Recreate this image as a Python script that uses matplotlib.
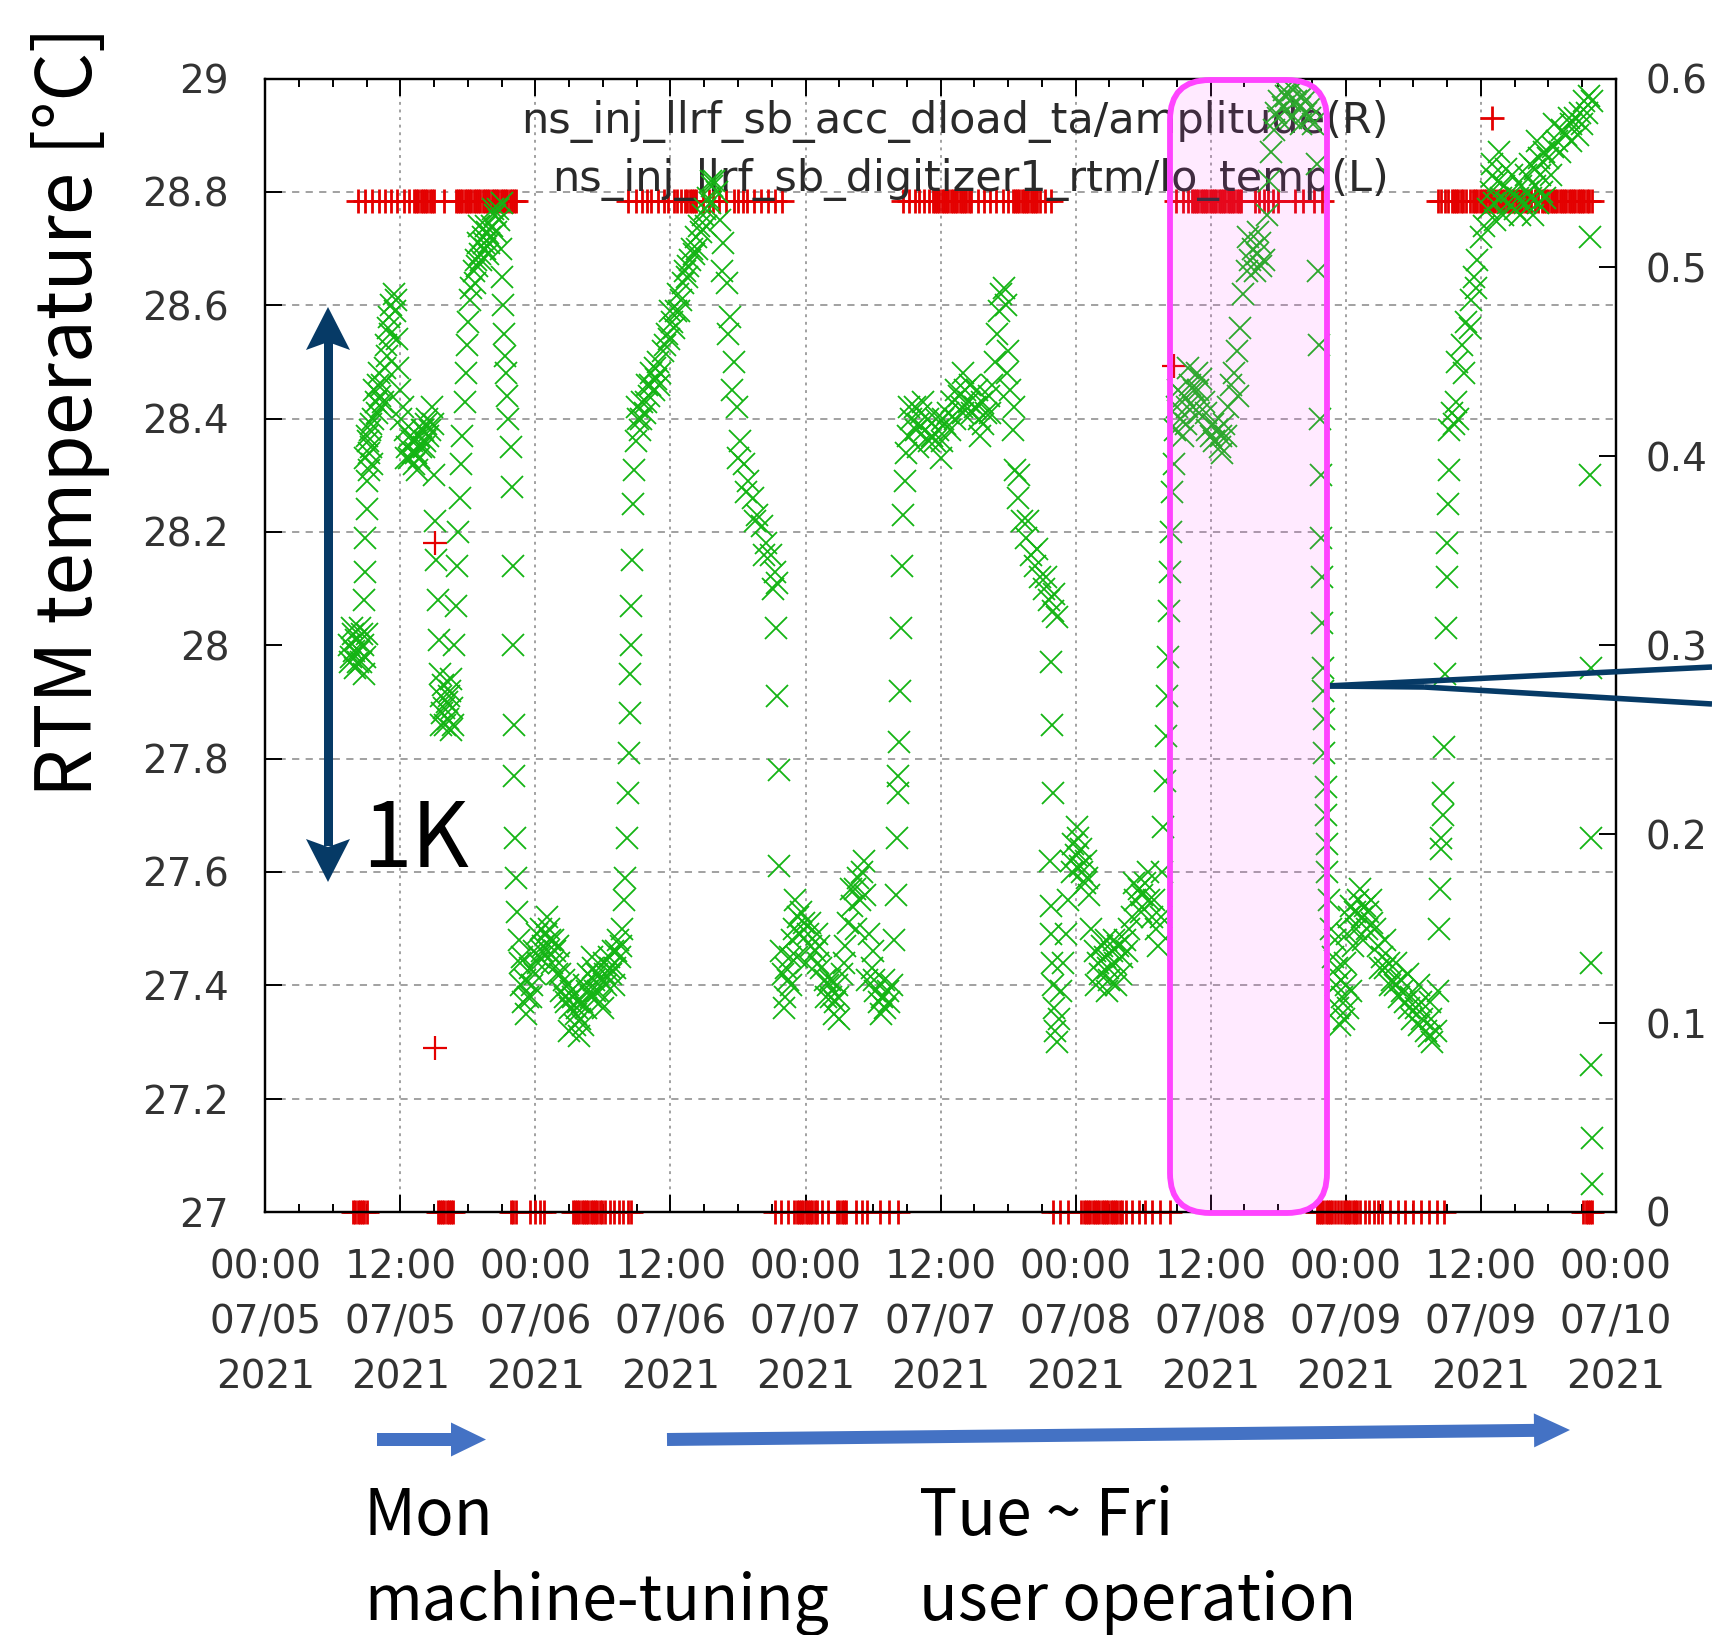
import matplotlib
matplotlib.use("Agg")
import matplotlib.pyplot as plt
import numpy as np
from matplotlib.patches import FancyBboxPatch, Polygon
from matplotlib.lines import Line2D
from matplotlib.transforms import IdentityTransform

# hours since 07/05 00:00 and RTM temperature [degC], one list per day
mon = [(7.4, 28.00), (7.6, 27.98), (7.8, 28.02), (8.0, 27.96), (8.1, 28.01), (8.3, 27.99), (8.4, 28.03),
       (8.5, 27.97), (8.7, 28.00), (8.8, 27.95), (9.0, 28.02),
       (7.5, 27.97), (7.7, 28.03), (7.9, 27.99), (8.2, 27.97), (8.6, 28.02), (8.9, 27.98),
       (8.8, 28.08), (8.9, 28.13), (8.9, 28.19), (9.0, 28.24), (9.0, 28.29),
       (8.9, 28.33), (9.1, 28.36), (9.2, 28.34), (9.3, 28.38), (9.4, 28.35), (9.5, 28.32),
       (9.0, 28.37), (9.2, 28.31), (9.4, 28.39), (9.7, 28.45), (9.9, 28.41), (10.1, 28.48), (10.3, 28.42),
       (9.6, 28.40), (9.8, 28.43), (10.0, 28.46), (10.2, 28.44), (10.4, 28.46), (10.5, 28.43), (10.6, 28.49),
       (10.7, 28.53), (10.8, 28.51), (10.9, 28.56), (11.0, 28.58), (11.1, 28.55), (11.2, 28.60), (11.4, 28.62),
       (11.5, 28.59), (11.6, 28.61),
       (11.7, 28.54), (11.8, 28.49), (12.0, 28.45), (12.2, 28.42), (12.4, 28.38), (12.6, 28.35), (12.8, 28.33),
       (13.0, 28.36), (13.2, 28.32), (13.4, 28.34), (13.6, 28.37), (13.8, 28.35), (14.0, 28.38), (14.2, 28.36),
       (14.4, 28.40), (14.6, 28.38), (14.8, 28.42), (14.9, 28.39),
       (12.1, 28.40), (12.5, 28.33), (12.9, 28.37), (13.1, 28.34), (13.3, 28.36), (13.5, 28.31), (13.7, 28.33),
       (13.9, 28.38), (14.1, 28.35), (14.3, 28.39), (14.5, 28.37),
       (15.0, 28.30), (15.1, 28.22), (15.2, 28.15), (15.3, 28.08), (15.4, 28.01),
       (15.5, 27.95), (15.6, 27.91), (15.7, 27.88), (15.8, 27.93), (16.0, 27.86), (16.1, 27.90), (16.2, 27.87),
       (16.4, 27.92), (16.5, 27.85), (16.6, 27.89),
       (15.6, 27.86), (15.9, 27.89), (16.3, 27.91), (16.5, 27.94), (16.7, 27.86),
       (16.8, 28.00), (16.9, 28.07), (17.0, 28.14), (17.1, 28.20), (17.3, 28.26), (17.4, 28.32), (17.5, 28.37),
       (17.7, 28.43), (17.8, 28.48), (17.9, 28.53), (18.0, 28.57), (18.2, 28.61),
       (18.3, 28.63), (18.5, 28.66), (18.7, 28.68), (18.9, 28.71), (19.1, 28.69), (19.3, 28.72), (19.5, 28.70),
       (19.7, 28.73), (19.9, 28.71), (20.1, 28.74), (20.4, 28.76), (20.7, 28.77), (21.0, 28.78),
       (18.6, 28.64), (18.8, 28.67), (19.0, 28.74), (19.2, 28.68), (19.4, 28.71), (19.6, 28.74), (19.8, 28.69),
       (20.0, 28.72), (20.2, 28.77), (20.5, 28.73), (20.8, 28.75),
       (20.9, 28.70), (21.0, 28.65), (21.1, 28.60), (21.2, 28.55), (21.3, 28.51), (21.4, 28.48), (21.5, 28.44),
       (21.6, 28.40), (21.8, 28.35),
       (21.9, 28.28), (22.0, 28.14), (22.0, 28.00), (22.1, 27.86), (22.1, 27.77), (22.2, 27.66), (22.3, 27.59),
       (22.4, 27.53), (22.5, 27.48)]

tue = [(22.6, 27.44), (22.7, 27.40), (22.9, 27.37), (23.1, 27.41), (23.3, 27.38), (23.5, 27.43), (23.7, 27.40),
       (23.9, 27.46), (24.1, 27.49), (24.3, 27.45), (24.5, 27.50), (24.7, 27.47), (24.9, 27.49), (25.1, 27.46),
       (25.3, 27.48), (25.5, 27.44), (25.7, 27.46), (25.9, 27.42), (26.1, 27.44), (26.3, 27.39), (26.5, 27.41),
       (26.7, 27.37), (26.9, 27.40), (27.1, 27.36), (27.3, 27.38), (27.5, 27.33), (27.7, 27.36), (27.9, 27.31),
       (28.1, 27.37), (28.3, 27.40), (28.5, 27.36), (28.7, 27.42), (28.9, 27.38), (29.1, 27.43), (29.3, 27.39),
       (29.5, 27.42), (29.7, 27.37), (29.9, 27.41), (30.1, 27.44), (30.3, 27.40), (30.5, 27.45), (30.7, 27.42),
       (30.9, 27.46), (31.1, 27.43), (31.3, 27.48), (31.5, 27.45), (31.7, 27.50),
       (24.0, 27.42), (25.0, 27.52), (26.0, 27.47), (27.0, 27.32), (28.0, 27.34), (29.0, 27.45), (30.0, 27.36),
       (31.0, 27.40),
       (22.8, 27.45), (23.2, 27.35), (23.6, 27.38), (24.2, 27.44), (24.6, 27.46), (25.2, 27.50), (25.6, 27.48),
       (26.2, 27.42), (26.6, 27.38), (27.2, 27.39), (27.6, 27.35), (27.8, 27.37), (28.2, 27.33), (28.6, 27.39),
       (29.2, 27.41), (29.6, 27.39), (30.2, 27.42), (30.6, 27.43), (31.2, 27.46), (31.6, 27.47),
       (31.9, 27.55), (32.0, 27.59), (32.1, 27.66), (32.2, 27.74), (32.3, 27.81), (32.4, 27.88), (32.4, 27.95),
       (32.5, 28.00), (32.5, 28.07), (32.6, 28.15), (32.7, 28.25), (32.8, 28.31),
       (32.9, 28.36), (33.1, 28.40), (33.3, 28.38), (33.5, 28.43), (33.7, 28.41), (33.9, 28.46), (34.1, 28.44),
       (34.3, 28.48), (34.5, 28.45), (34.7, 28.47), (34.9, 28.50), (35.1, 28.48), (35.3, 28.52),
       (33.0, 28.42), (33.4, 28.40), (33.8, 28.43), (34.2, 28.46), (34.6, 28.49), (35.0, 28.46),
       (35.5, 28.53), (35.7, 28.55), (35.9, 28.54), (36.1, 28.57), (36.3, 28.56), (36.5, 28.59), (36.7, 28.62),
       (36.9, 28.61), (37.1, 28.64), (37.3, 28.66), (37.5, 28.65), (37.7, 28.68), (37.9, 28.70), (38.1, 28.69),
       (38.3, 28.72), (38.5, 28.74), (38.7, 28.73), (38.9, 28.76), (39.1, 28.77), (39.3, 28.79), (39.5, 28.78),
       (39.7, 28.81), (39.9, 28.82), (40.1, 28.80),
       (36.0, 28.59), (36.8, 28.59), (37.6, 28.67), (38.4, 28.70), (39.2, 28.74), (39.6, 28.82),
       (40.4, 28.75), (40.7, 28.71), (41.0, 28.64), (41.3, 28.58), (41.6, 28.50), (41.9, 28.42), (42.2, 28.36),
       (42.5, 28.32), (42.9, 28.29), (43.3, 28.26), (43.7, 28.23), (44.1, 28.21), (44.5, 28.18), (44.9, 28.16),
       (45.3, 28.13), (45.5, 28.11),
       (40.6, 28.66), (41.1, 28.55), (41.5, 28.45), (42.0, 28.33), (42.7, 28.27), (43.5, 28.22), (44.3, 28.16),
       (45.1, 28.10),
       (45.4, 28.03), (45.5, 27.91), (45.6, 27.78), (45.6, 27.61)]

wed = [(45.8, 27.46), (46.0, 27.42), (46.1, 27.36), (46.2, 27.38), (46.4, 27.41), (46.6, 27.45), (46.8, 27.48),
       (47.0, 27.50), (47.2, 27.45), (47.3, 27.52), (47.6, 27.53), (47.9, 27.51), (48.2, 27.49), (48.5, 27.47),
       (48.8, 27.46), (49.1, 27.44), (49.4, 27.43), (49.7, 27.41), (50.0, 27.40), (50.3, 27.38), (50.5, 27.35),
       (50.6, 27.37), (50.9, 27.38), (51.2, 27.42), (51.5, 27.47), (51.8, 27.51), (52.1, 27.54), (52.4, 27.57),
       (52.5, 27.50), (52.7, 27.59), (53.0, 27.60), (53.3, 27.56), (53.6, 27.49), (53.9, 27.43), (54.0, 27.46),
       (54.2, 27.39), (54.5, 27.37), (54.8, 27.38), (55.1, 27.36), (55.4, 27.37), (55.7, 27.40),
       (48.0, 27.44), (49.0, 27.49), (51.0, 27.34), (53.5, 27.41), (55.0, 27.41),
       (46.3, 27.43), (46.7, 27.40), (47.1, 27.55), (47.5, 27.49), (48.4, 27.51), (49.2, 27.47), (49.8, 27.38),
       (50.2, 27.41), (50.8, 27.40), (51.4, 27.44), (52.0, 27.57), (52.8, 27.55), (53.2, 27.62), (54.1, 27.41),
       (54.7, 27.35), (55.3, 27.39),
       (55.9, 27.48), (56.0, 27.56), (56.1, 27.66), (56.2, 27.74), (56.2, 27.77), (56.3, 27.83), (56.4, 27.92),
       (56.5, 28.03), (56.6, 28.14), (56.7, 28.23), (56.8, 28.29), (56.9, 28.34),
       (57.1, 28.37), (57.4, 28.40), (57.7, 28.42), (58.0, 28.39), (58.3, 28.41), (58.6, 28.38), (58.9, 28.40),
       (59.2, 28.37), (59.5, 28.36), (59.8, 28.38), (60.1, 28.36), (60.4, 28.39), (60.7, 28.41), (61.0, 28.43),
       (61.3, 28.40), (61.6, 28.44), (61.9, 28.42), (62.2, 28.45), (62.5, 28.43), (62.8, 28.41), (63.1, 28.42),
       (63.4, 28.40), (63.7, 28.43), (64.0, 28.41), (64.3, 28.44), (64.6, 28.46),
       (58.0, 28.35), (60.0, 28.33), (62.0, 28.48), (63.5, 28.37),
       (57.2, 28.42), (57.8, 28.38), (58.4, 28.43), (59.0, 28.36), (59.6, 28.40), (60.2, 28.40), (60.8, 28.38),
       (61.4, 28.45), (62.0, 28.41), (62.6, 28.46), (63.2, 28.45), (63.8, 28.39), (64.4, 28.41),
       (64.8, 28.50), (65.0, 28.55), (65.2, 28.59), (65.4, 28.62), (65.6, 28.63), (65.8, 28.60),
       (66.0, 28.52), (66.2, 28.45), (66.4, 28.38), (66.6, 28.31), (66.9, 28.26), (67.2, 28.22), (67.6, 28.19),
       (68.0, 28.16), (68.4, 28.14), (68.8, 28.12), (69.2, 28.10), (69.6, 28.08), (70.0, 28.06), (70.3, 28.05),
       (65.9, 28.48), (66.5, 28.42), (67.0, 28.30), (67.8, 28.22), (68.6, 28.17), (69.4, 28.12), (70.1, 28.09),
       (69.8, 27.97), (69.9, 27.86), (70.0, 27.74)]

thu = [(69.7, 27.62), (69.8, 27.54), (69.8, 27.49), (69.9, 27.44), (70.0, 27.40), (70.1, 27.36), (70.2, 27.32),
       (70.3, 27.30), (70.5, 27.34), (70.7, 27.39), (70.9, 27.44), (71.1, 27.49), (71.3, 27.55),
       (71.6, 27.62), (71.8, 27.65), (72.0, 27.63), (72.2, 27.66), (72.4, 27.61), (72.6, 27.60), (72.8, 27.58),
       (73.0, 27.59), (73.2, 27.56),
       (71.7, 27.60), (72.1, 27.68), (72.5, 27.64), (72.9, 27.62),
       (73.4, 27.50), (73.7, 27.46), (73.8, 27.40), (74.0, 27.44), (74.3, 27.47), (74.6, 27.45), (74.8, 27.39),
       (74.9, 27.43), (75.2, 27.46), (75.5, 27.44), (75.6, 27.40), (75.8, 27.47), (76.1, 27.45), (76.4, 27.48),
       (76.7, 27.50),
       (77.0, 27.52), (77.3, 27.55), (77.6, 27.57), (77.9, 27.56), (78.2, 27.58), (78.5, 27.55), (78.8, 27.52),
       (79.1, 27.50), (79.3, 27.47),
       (74.2, 27.42), (74.7, 27.48), (75.0, 27.41), (75.4, 27.48), (76.0, 27.42), (76.6, 27.46), (77.2, 27.58),
       (77.8, 27.53), (78.4, 27.60), (79.0, 27.55),
       (79.6, 27.52), (79.7, 27.60), (79.8, 27.68), (79.9, 27.76), (80.0, 27.84), (80.1, 27.91), (80.2, 27.98),
       (80.3, 28.06), (80.4, 28.13), (80.5, 28.20), (80.6, 28.27), (80.7, 28.32),
       (80.8, 28.38), (81.0, 28.42), (81.3, 28.40), (81.6, 28.44), (81.9, 28.42), (82.2, 28.46), (82.5, 28.45),
       (82.8, 28.48), (83.1, 28.47), (83.4, 28.43), (83.7, 28.38), (84.0, 28.37), (84.3, 28.36), (84.6, 28.38),
       (84.9, 28.37), (85.2, 28.39), (85.5, 28.42), (85.8, 28.46), (86.1, 28.48), (86.4, 28.44),
       (81.5, 28.37), (82.0, 28.49), (83.0, 28.41), (85.0, 28.34),
       (81.1, 28.45), (81.8, 28.39), (82.4, 28.42), (82.9, 28.45), (83.6, 28.41), (84.2, 28.39), (84.8, 28.35),
       (85.4, 28.37),
       (86.3, 28.52), (86.6, 28.56), (86.9, 28.62), (87.2, 28.66), (87.5, 28.68), (87.8, 28.70), (88.1, 28.69),
       (88.4, 28.71), (88.7, 28.68),
       (87.3, 28.72), (87.9, 28.66), (88.2, 28.73), (88.5, 28.67),
       (89.0, 28.76), (89.2, 28.82), (89.4, 28.87), (89.6, 28.91),
       (89.8, 28.94), (90.1, 28.96), (90.4, 28.95), (90.7, 28.97), (91.0, 28.96), (91.3, 28.98), (91.6, 28.96),
       (91.9, 28.95), (92.2, 28.97), (92.5, 28.94), (92.8, 28.93), (93.1, 28.92),
       (90.0, 28.93), (90.5, 28.98), (91.1, 28.93), (91.5, 28.99), (92.0, 28.92), (92.4, 28.96), (92.9, 28.95),
       (93.4, 28.85), (93.5, 28.66), (93.6, 28.53), (93.7, 28.40), (93.8, 28.30), (93.8, 28.19), (93.9, 28.12),
       (93.9, 28.04), (94.0, 27.96), (94.0, 27.92), (94.1, 27.87), (94.1, 27.81), (94.2, 27.75), (94.2, 27.70),
       (94.3, 27.65), (94.3, 27.60)]

fri = [(94.5, 27.55), (94.7, 27.50), (94.9, 27.45), (95.1, 27.40), (95.3, 27.36), (95.5, 27.33), (95.7, 27.38),
       (95.9, 27.44), (96.1, 27.49), (96.3, 27.52), (96.5, 27.54), (96.8, 27.53), (97.1, 27.55), (97.4, 27.52),
       (97.7, 27.54), (98.0, 27.53), (98.3, 27.51),
       (95.0, 27.48), (95.8, 27.34), (96.2, 27.36), (96.5, 27.39), (96.6, 27.47), (97.5, 27.48),
       (95.2, 27.43), (95.6, 27.41), (96.0, 27.40), (96.9, 27.50), (97.3, 27.57), (97.9, 27.50), (98.2, 27.55),
       (98.6, 27.50), (98.9, 27.47), (99.2, 27.45), (99.5, 27.43), (99.8, 27.44), (100.1, 27.41), (100.4, 27.40),
       (100.7, 27.38), (101.0, 27.39), (101.3, 27.37), (101.6, 27.36), (101.9, 27.34), (102.2, 27.36),
       (102.5, 27.33), (102.8, 27.34), (103.1, 27.32), (103.4, 27.31), (103.7, 27.30), (104.0, 27.32),
       (99.5, 27.48), (100.5, 27.44), (101.5, 27.42), (102.5, 27.40), (103.5, 27.37),
       (99.0, 27.43), (99.9, 27.40), (100.9, 27.41), (101.8, 27.38), (102.7, 27.37), (103.6, 27.34),
       (104.2, 27.39), (104.3, 27.50), (104.4, 27.57), (104.5, 27.64), (104.5, 27.66), (104.6, 27.70),
       (104.6, 27.74), (104.7, 27.82), (104.8, 27.95), (104.9, 28.03), (105.0, 28.12), (105.0, 28.18),
       (105.1, 28.25), (105.2, 28.31),
       (105.2, 28.38), (105.4, 28.41), (105.6, 28.39), (105.8, 28.43), (106.0, 28.40),
       (105.9, 28.50), (106.3, 28.53), (106.7, 28.57), (107.1, 28.61), (107.4, 28.65), (107.7, 28.68),
       (108.0, 28.72), (108.3, 28.74),
       (106.5, 28.48), (107.0, 28.56), (107.6, 28.63),
       (108.6, 28.77), (108.9, 28.80), (109.2, 28.78), (109.5, 28.82), (109.8, 28.79), (110.1, 28.81),
       (110.4, 28.78), (110.7, 28.80), (111.0, 28.77), (111.3, 28.79), (111.6, 28.81), (111.9, 28.78),
       (112.2, 28.80), (112.5, 28.79), (112.8, 28.81), (113.1, 28.78), (113.4, 28.80), (113.7, 28.79),
       (109.0, 28.85), (109.6, 28.87), (110.2, 28.84),
       (109.3, 28.75), (110.0, 28.76), (110.8, 28.83), (111.5, 28.76), (112.6, 28.76), (113.3, 28.83),
       (112.0, 28.83), (112.4, 28.85), (112.8, 28.84), (113.2, 28.86), (113.6, 28.87), (114.0, 28.86),
       (114.4, 28.88), (114.8, 28.89), (115.2, 28.91), (115.6, 28.90), (116.0, 28.92), (116.4, 28.93),
       (116.8, 28.94), (117.2, 28.96), (117.6, 28.97), (117.9, 28.96),
       (113.0, 28.89), (114.5, 28.92), (116.0, 28.89), (117.0, 28.92),
       (114.2, 28.83), (115.0, 28.87), (115.8, 28.93), (116.6, 28.90), (117.4, 28.94),
       (117.7, 28.72), (117.7, 28.30), (117.8, 27.96), (117.8, 27.66), (117.8, 27.44), (117.8, 27.26),
       (117.9, 27.13), (117.9, 27.05)]

# amplitude (right axis): hours where it sits at the "on" level, hours where it is 0, and a few in between
amp_on_level = 0.535
amp_on_hours = [8.2, 8.9, 9.5, 10.1, 10.6, 11.2, 11.7, 12.3, 12.8, 13.2, 13.4, 13.6, 13.8, 14.0, 14.2, 14.4,
                14.6, 14.8, 15.0, 15.9, 16.9, 17.1, 17.3, 17.5, 17.7, 17.9, 18.1, 18.3, 18.5, 18.7, 18.9, 19.1,
                19.3, 19.5, 19.7, 19.9, 20.1, 20.3, 20.5, 20.7, 20.9, 21.1, 21.3, 21.5, 21.7, 21.9, 22.1, 22.3,
                32.2, 32.9, 33.5, 33.9, 34.3, 34.9, 35.4, 35.8, 36.3, 36.6, 36.9, 37.3, 37.5, 37.7, 37.9, 38.1,
                38.3, 38.9, 39.4, 39.8, 40.3, 40.9, 41.6, 42.0, 42.4, 42.8, 43.4, 44.0, 44.7, 45.3, 45.9,
                56.7, 57.2, 57.7, 58.1, 58.5, 59.0, 59.3, 59.5, 59.7, 59.9, 60.1, 60.3, 60.5, 60.7, 60.9, 61.1,
                61.3, 61.5, 61.7, 61.9, 62.1, 62.3, 62.5, 62.7, 63.3, 63.9, 64.4, 64.9, 65.5, 66.0, 66.4, 66.6,
                66.8, 67.0, 67.2, 67.4, 67.6, 67.8, 68.0, 68.2, 68.4, 68.6, 68.8, 69.3, 69.8,
                80.9, 81.5, 82.0, 82.3, 82.5, 82.7, 82.9, 83.1, 83.3, 83.5, 83.7, 83.9, 84.1, 84.3, 84.5, 84.7,
                84.9, 85.1, 85.3, 85.5, 85.7, 85.9, 86.1, 86.3, 86.5, 86.7, 87.9, 88.3, 88.7, 89.1, 89.5, 90.0,
                91.5, 92.2, 93.2, 93.9,
                104.2, 104.5, 104.8, 105.1, 105.4, 105.6, 105.8, 106.0, 106.2, 106.4, 106.7, 107.0, 107.3, 107.5,
                107.7, 107.9, 108.1, 108.3, 108.5, 108.7, 108.9, 109.1, 109.3, 109.5, 109.7, 109.9, 110.1, 110.3,
                110.5, 110.7, 110.9, 111.1, 111.3, 111.5, 111.7, 111.9, 112.1, 112.3, 112.5, 112.8, 113.1, 113.4,
                113.6, 113.8, 114.0, 114.2, 114.4, 114.6, 114.8, 115.0, 115.2, 115.4, 115.6, 115.8, 116.0, 116.2,
                116.4, 116.6, 116.8, 117.0, 117.2, 117.4, 117.6, 117.9]
amp_off_hours = [7.8, 8.0, 8.2, 8.4, 8.6, 8.8, 9.0,
                 15.3, 15.5, 15.7, 15.9, 16.1, 16.3, 16.5, 16.7,
                 21.8, 22.0, 22.3, 23.5, 24.0, 24.4, 24.8,
                 27.3, 27.5, 27.7, 27.9, 28.1, 28.3, 28.5, 28.7, 28.9, 29.1, 29.3, 29.5, 29.7, 29.9, 30.2, 30.6,
                 31.0, 31.4, 31.8, 32.2, 32.5,
                 45.3, 45.8, 46.4, 47.0, 47.2, 47.4, 47.6, 47.8, 48.0, 48.2, 48.4, 48.6, 48.8, 49.0, 49.5, 50.0,
                 50.8, 51.0, 51.2, 51.4, 51.6, 52.5, 53.0, 53.5, 54.6, 55.4, 56.2,
                 70.0, 70.6, 71.3, 72.5, 72.7, 72.9, 73.1, 73.3, 73.5, 73.7, 73.9, 74.1, 74.3, 74.5, 74.7, 74.9,
                 75.1, 75.3, 75.5, 75.7, 75.9, 76.1, 76.5, 77.0, 77.6, 78.2, 78.8, 79.5, 80.4,
                 93.4, 93.6, 93.8, 94.0, 94.2, 94.4, 94.6, 94.8, 95.0, 95.3, 95.6, 95.8, 96.0, 96.2, 96.4, 96.6,
                 96.8, 97.0, 97.3, 97.7, 98.1, 98.5, 98.9, 99.2, 99.9, 100.6, 101.3, 102.0, 102.7, 103.4, 104.1,
                 104.7,
                 117.1, 117.3, 117.5, 117.7, 117.9]
amp_mid_hours = [15.1, 15.1, 80.7]
amp_mid_vals = [0.354, 0.087, 0.448]

x_ticks = [0, 12, 24, 36, 48, 60, 72, 84, 96, 108, 120]
x_labels = ["00:00\n07/05\n2021", "12:00\n07/05\n2021", "00:00\n07/06\n2021", "12:00\n07/06\n2021",
            "00:00\n07/07\n2021", "12:00\n07/07\n2021", "00:00\n07/08\n2021", "12:00\n07/08\n2021",
            "00:00\n07/09\n2021", "12:00\n07/09\n2021", "00:00\n07/10\n2021"]
temp_ticks = [27, 27.2, 27.4, 27.6, 27.8, 28, 28.2, 28.4, 28.6, 28.8, 29]
temp_labels = ["27", "27.2", "27.4", "27.6", "27.8", "28", "28.2", "28.4", "28.6", "28.8", "29"]
amp_ticks = [0, 0.1, 0.2, 0.3, 0.4, 0.5, 0.6]
amp_labels = ["0", "0.1", "0.2", "0.3", "0.4", "0.5", "0.6"]

W, H = 1712, 1635
GREEN = "#14b414"
RED = "#e40000"
NAVY = "#063a66"
BLUE = "#4472c4"
CJK = ["Noto Sans CJK JP", "DejaVu Sans"]

fig = plt.figure(figsize=(W / 100, H / 100), dpi=100)
ax_r = fig.add_axes([265.3 / W, 1 - 1211.9 / H, 1350.6 / W, 1133.3 / H])
ax_l = ax_r.twinx()
ax_r.yaxis.tick_right()
ax_l.yaxis.tick_left()

ax_r.set_xlim(0, 120)
ax_r.set_ylim(0, 0.6)
ax_l.set_ylim(27, 29)

ax_r.set_xticks(x_ticks)
ax_r.set_xticklabels(x_labels, fontsize=28, color="#333333", linespacing=1.57, family="DejaVu Sans")
ax_r.set_xticks(np.arange(0, 121, 3), minor=True)
ax_r.tick_params(axis="x", which="both", direction="in", top=True, bottom=True, width=1.4)
ax_r.tick_params(axis="x", which="major", length=12, pad=26)
ax_r.tick_params(axis="x", which="minor", length=6)

ax_r.set_yticks(amp_ticks)
ax_r.set_yticklabels(amp_labels, fontsize=28, color="#333333", family="DejaVu Sans")
ax_r.tick_params(axis="y", which="major", direction="in", length=12, width=1.4, pad=21,
                 right=True, left=False, labelright=True, labelleft=False)
# horizontal grid follows the temperature ticks, drawn on the lower axes so it stays under the points
ax_r.set_yticks([(t - 27) / 2 * 0.6 for t in temp_ticks[1:-1]], minor=True)
ax_r.tick_params(axis="y", which="minor", length=0, left=False, right=False)
ax_r.grid(True, axis="y", which="minor", color="#9a9a9a", lw=1.3, ls=(0, (4, 3.5)))
ax_r.grid(True, axis="x", which="major", color="#9a9a9a", lw=1.3, ls=(0, (1.6, 2.6)))

ax_l.set_yticks(temp_ticks)
ax_l.set_yticklabels(temp_labels, fontsize=28, color="#333333", family="DejaVu Sans")
ax_l.tick_params(axis="y", direction="in", length=12, width=1.4, pad=26,
                 left=True, right=False, labelleft=True, labelright=False)

for a in (ax_r, ax_l):
    for s in a.spines.values():
        s.set_linewidth(1.6)

# amplitude (R)
h_red, = ax_r.plot(amp_on_hours, [amp_on_level] * len(amp_on_hours), ls="none", marker="+", ms=17,
                   mew=2.0, color=RED, clip_on=False, zorder=2)
ax_r.plot(amp_off_hours, [0] * len(amp_off_hours), ls="none", marker="+", ms=17, mew=2.0,
          color=RED, clip_on=False, zorder=2)
ax_r.plot(amp_mid_hours, amp_mid_vals, ls="none", marker="+", ms=17, mew=1.6, color=RED, zorder=2)

# temperature (L)
h_green = None
for day in (mon, tue, wed, thu, fri):
    hrs, temps = zip(*day)
    ln, = ax_l.plot(hrs, temps, ls="none", marker="x", ms=16, mew=1.3, color=GREEN, zorder=3)
    if h_green is None:
        h_green = ln

leg = ax_r.legend([h_red, h_green],
                  ["ns_inj_llrf_sb_acc_dload_ta/amplitude(R)", "ns_inj_llrf_sb_digitizer1_rtm/lo_temp(L)"],
                  loc="upper right", bbox_to_anchor=(0.937, 0.996), borderaxespad=0, frameon=False,
                  markerfirst=False, handlelength=1.0, handletextpad=1.9, labelspacing=0.34,
                  prop={"family": "DejaVu Sans", "size": 31})
for t in leg.get_texts():
    t.set_color("#2a2a2a")

# ---- annotations drawn in image pixels ----
PIX = IdentityTransform()


def P(x, y):
    return (x, H - y)


def poly(points, color):
    fig.add_artist(Polygon([P(x, y) for x, y in points], closed=True, fc=color, ec="none", transform=PIX))


def block_arrow(x0, y0, x1, y1, shaft, head_w, head_l, color):
    d = np.array([x1 - x0, y1 - y0], float)
    L = np.hypot(*d)
    u = d / L
    n = np.array([-u[1], u[0]])
    s = np.array([x0, y0], float)
    b = s + u * (L - head_l)
    e = np.array([x1, y1], float)
    pts = [s + n * shaft / 2, b + n * shaft / 2, b + n * head_w / 2, e,
           b - n * head_w / 2, b - n * shaft / 2, s - n * shaft / 2]
    poly([tuple(p) for p in pts], color)


# highlighted period
fig.add_artist(FancyBboxPatch(P(1170, 1213), 1327 - 1170, 1213 - 80,
                              boxstyle="round,pad=0,rounding_size=40", transform=PIX,
                              fc=(1.0, 0.27, 1.0, 0.11), ec="#ff44ff", lw=4.2, zorder=5))

# 1K scale bar
poly([(323.5, 340), (332.5, 340), (332.5, 846), (323.5, 846)], NAVY)
poly([(328, 307), (350, 350), (328, 342), (306, 350)], NAVY)
poly([(328, 882), (350, 839), (328, 847), (306, 839)], NAVY)
fig.text(362 / W, 1 - 867 / H, "1K", fontsize=64, family=CJK, ha="left", va="baseline", color="black")

# pointer lines toward the right
for xs, ys in (([1327, 1712], [686, 667]), ([1327, 1424], [686, 687]), ([1424, 1712], [687, 704])):
    fig.add_artist(Line2D(xs, [H - y for y in ys], color=NAVY, lw=4.0, transform=PIX,
                          solid_capstyle="butt"))

fig.text(70 / W, 1 - 412 / H, "RTM temperature [°C]", rotation=90, fontsize=55, family=CJK,
         ha="center", va="center", color="black")

# period arrows and captions
block_arrow(377, 1439.5, 486, 1439.5, 13, 34, 35, BLUE)
block_arrow(667, 1439.5, 1570, 1430, 13, 34, 36, BLUE)
fig.text(364 / W, 1 - 1535 / H, "Mon", fontsize=46, family=CJK, ha="left", va="baseline")
fig.text(364 / W, 1 - 1620 / H, "machine-tuning", fontsize=45, family=CJK, ha="left", va="baseline")
fig.text(919 / W, 1 - 1535 / H, "Tue ~ Fri", fontsize=46, family=CJK, ha="left", va="baseline")
fig.text(919 / W, 1 - 1620 / H, "user operation", fontsize=46, family=CJK, ha="left", va="baseline")

fig.savefig("out.png", dpi=100)
